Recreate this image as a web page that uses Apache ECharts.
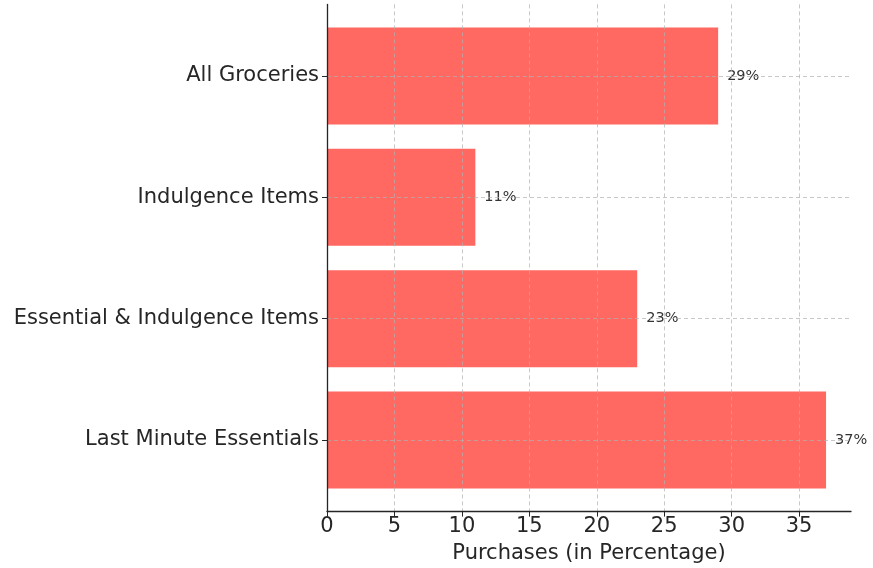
<!DOCTYPE html>
<html>
<head>
<meta charset="utf-8">
<script src="https://cdn.jsdelivr.net/npm/echarts@6/dist/echarts.min.js"></script>
<style>
  html, body { margin: 0; padding: 0; background: #ffffff; }
  #chart { width: 873px; height: 568px; }
</style>
</head>
<body>
<div id="chart"></div>
<script>
// Purchase categories, top to bottom
const categories = ['All Groceries', 'Indulgence Items', 'Essential & Indulgence Items', 'Last Minute Essentials'];
// Share of purchases (%)
const purchases = [29, 11, 23, 37];
// Value axis ticks
const xTicks = [0, 5, 10, 15, 20, 25, 30, 35];

const FONT = "'DejaVu Sans', sans-serif";
const BAR_COLOR = '#ff6961';
const GRID_COLOR = 'rgba(176,176,176,0.7)';
const AXIS_COLOR = '#262626';
const xMax = 38.85;

const chart = echarts.init(document.getElementById('chart'));

chart.setOption({
  animation: false,
  backgroundColor: '#ffffff',
  grid: [
    // frame: axes lines, value ticks and vertical grid lines
    { left: 327, right: 22, top: 4.4, bottom: 56.4, containLabel: false, outerBoundsMode: 'none' },
    // bars: category bands sit inside the frame with matplotlib-like margins
    { left: 327, right: 22, top: 15.3, bottom: 67.3, containLabel: false, outerBoundsMode: 'none' }
  ],
  xAxis: [
    {
      gridIndex: 0,
      type: 'value',
      min: 0,
      max: xMax,
      interval: 5,
      z: 5,
      axisLine: { show: true, lineStyle: { color: AXIS_COLOR, width: 1.3 } },
      axisTick: { show: true, length: 5, lineStyle: { color: AXIS_COLOR } },
      axisLabel: {
        show: true,
        margin: 4,
        fontFamily: FONT,
        fontSize: 21,
        color: AXIS_COLOR,
        showMaxLabel: false,
        formatter: (v) => (xTicks.indexOf(v) >= 0 ? String(v) : '')
      },
      splitLine: {
        show: true,
        showMinLine: false,
        showMaxLine: false,
        lineStyle: { color: GRID_COLOR, type: [4, 3], width: 1 }
      },
      name: 'Purchases (in Percentage)',
      nameLocation: 'middle',
      nameGap: 31,
      nameTextStyle: { fontFamily: FONT, fontSize: 21, color: AXIS_COLOR }
    },
    {
      gridIndex: 1,
      type: 'value',
      min: 0,
      max: xMax,
      show: false
    }
  ],
  yAxis: [
    {
      gridIndex: 0,
      type: 'value',
      min: 0,
      max: 1,
      z: 6,
      axisLine: { show: true, lineStyle: { color: AXIS_COLOR, width: 1.3 } },
      axisTick: { show: false },
      axisLabel: { show: false },
      splitLine: { show: false }
    },
    {
      gridIndex: 1,
      type: 'category',
      data: categories,
      inverse: true,
      axisLine: { show: false },
      axisTick: { show: true, alignWithLabel: true, length: 5, lineStyle: { color: AXIS_COLOR } },
      axisLabel: {
        margin: 8,
        padding: [3, 0, 0, 0],
        fontFamily: FONT,
        fontSize: 21,
        color: AXIS_COLOR
      },
      splitLine: { show: false }
    }
  ],
  series: [
    {
      type: 'bar',
      xAxisIndex: 1,
      yAxisIndex: 1,
      data: purchases,
      barCategoryGap: '20%',
      itemStyle: { color: BAR_COLOR },
      label: {
        show: true,
        position: 'right',
        distance: 9,
        formatter: '{c}%',
        fontFamily: FONT,
        fontSize: 14.5,
        color: '#333333'
      },
      markLine: {
        silent: true,
        symbol: 'none',
        label: { show: false },
        lineStyle: { color: GRID_COLOR, type: [4, 3], width: 1 },
        data: categories.map((c) => ({ yAxis: c }))
      }
    }
  ]
});
</script>
</body>
</html>
